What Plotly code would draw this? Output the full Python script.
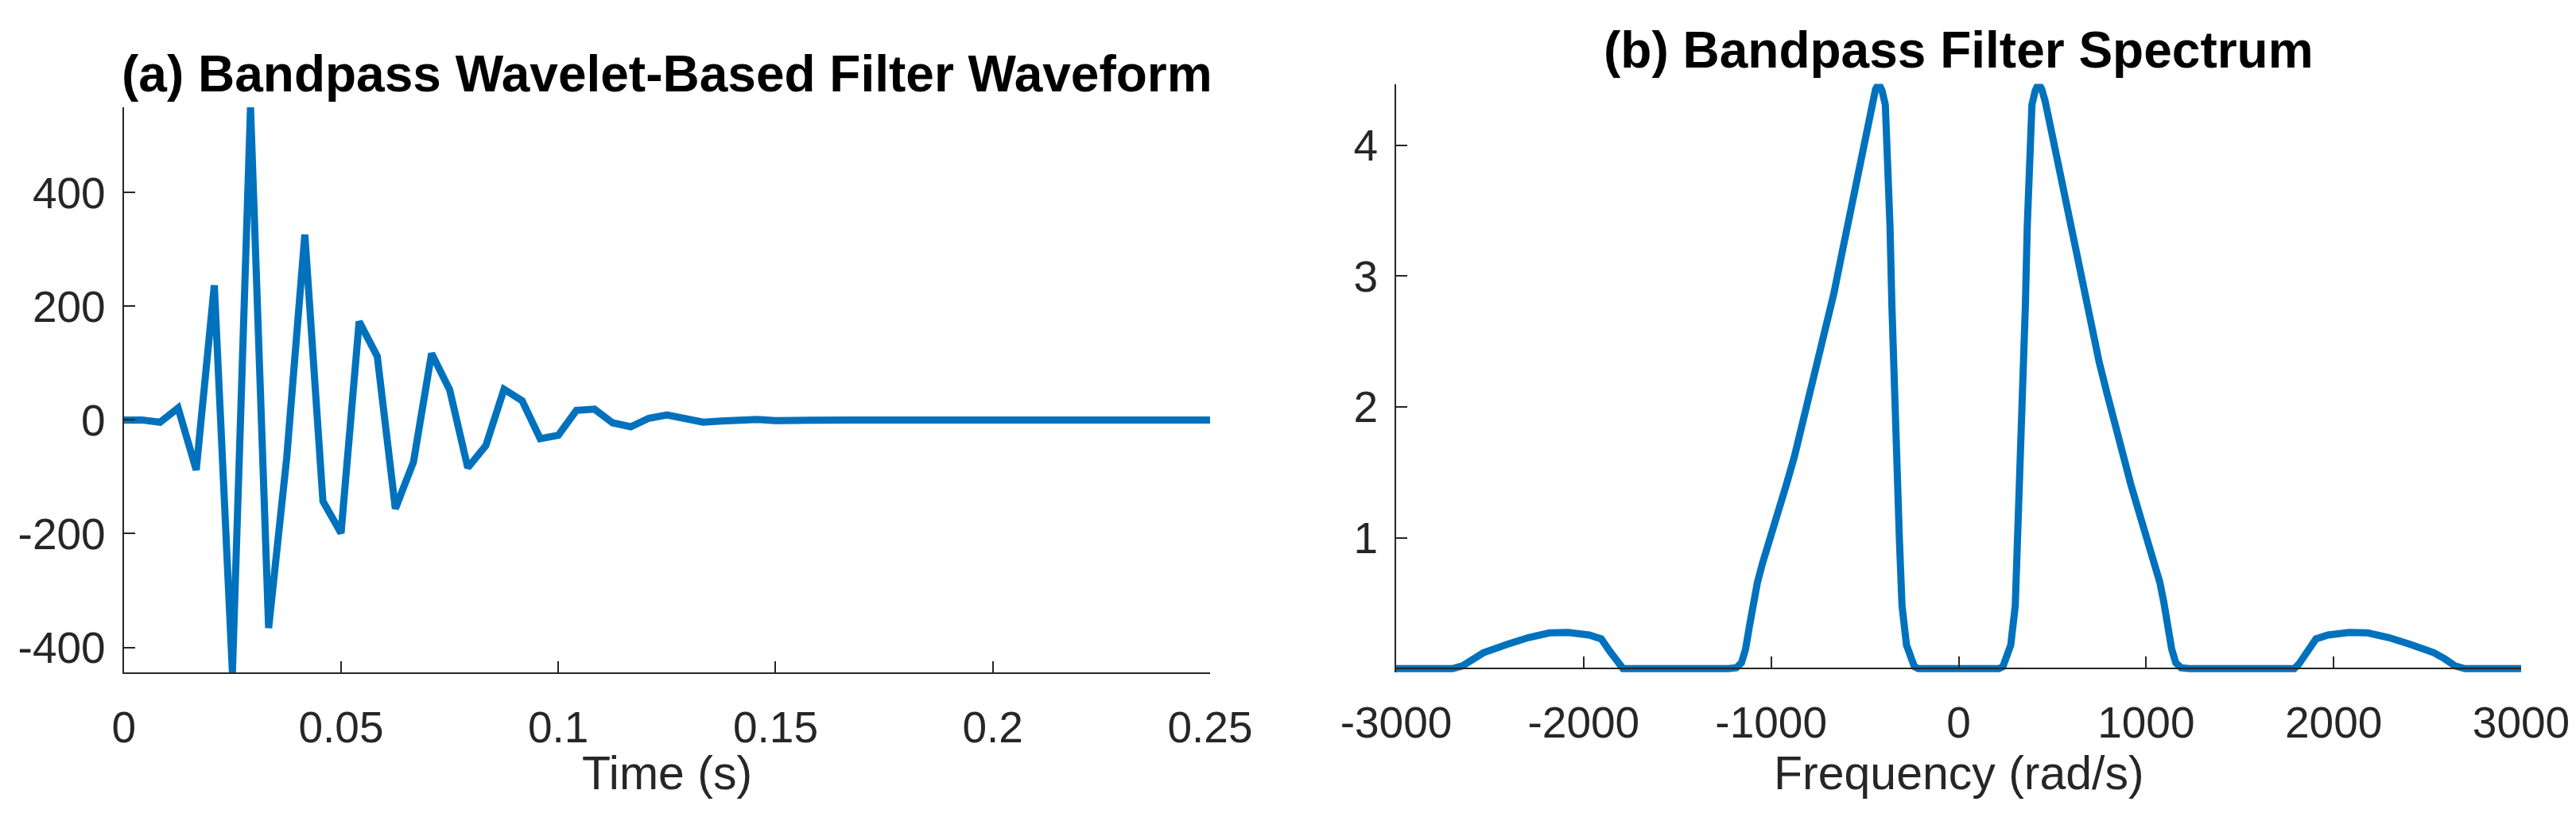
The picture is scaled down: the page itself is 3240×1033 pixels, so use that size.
import plotly.graph_objects as go

# ---------------- data ----------------
time_s = [0, 0.004167, 0.008333, 0.0125, 0.016667, 0.020833, 0.025, 0.029167, 0.033333, 0.0375,
          0.041667, 0.045833, 0.05, 0.054167, 0.058333, 0.0625, 0.066667, 0.070833, 0.075, 0.079167,
          0.083333, 0.0875, 0.091667, 0.095833, 0.1, 0.104167, 0.108333, 0.1125, 0.116667, 0.120833,
          0.125, 0.129167, 0.133333, 0.1375, 0.141667, 0.145833, 0.15, 0.154167, 0.158333, 0.1625,
          0.166667, 0.170833, 0.175, 0.179167, 0.183333, 0.1875, 0.191667, 0.195833, 0.2, 0.204167,
          0.208333, 0.2125, 0.216667, 0.220833, 0.225, 0.229167, 0.233333, 0.2375, 0.241667, 0.245833,
          0.25]
waveform = [0, 0, -4, 21, -88, 237, -444, 550, -366, -66,
            326, -143, -199, 173, 112, -156, -74, 117, 53, -84,
            -45, 54, 34, -33, -27, 17, 19, -5, -12, 3,
            9, 2, -4, -2, 1, 1, -1, 0, 0, 0,
            0, 0, 0, 0, 0, 0, 0, 0, 0, 0,
            0, 0, 0, 0, 0, 0, 0, 0, 0, 0,
            0]

freq_rad = [-3000, -2700, -2648, -2592, -2535, -2408, -2295, -2182, -2083, -1970, -1906, -1857, -1814, -1790,
            -1230, -1186, -1158, -1136, -1115, -1094, -1073, -1045, -1003, -961, -918, -876, -834, -792,
            -750, -707, -665, -623, -581, -539, -496, -461, -443, -426, -409, -391, -377, -366, -356,
            -345, -332, -316, -302, -278, -236, -215,
            0,
            215, 236, 278, 302, 316, 332, 345, 356, 366, 377, 391, 409, 426, 443, 461, 496, 539, 581,
            623, 665, 707, 750, 792, 834, 876, 918, 961, 1003, 1045, 1073, 1094, 1115, 1136, 1158,
            1186, 1230,
            1790, 1814, 1857, 1906, 1970, 2083, 2182, 2295, 2408, 2535, 2592, 2648, 2700, 3000]
spectrum = [0, 0, 0.02, 0.075, 0.121, 0.186, 0.237, 0.273, 0.277, 0.257, 0.227, 0.126, 0.034, 0,
            0, 0.006, 0.045, 0.15, 0.33, 0.51, 0.66, 0.81, 1.0, 1.2, 1.41, 1.62, 1.86, 2.1,
            2.34, 2.6, 2.87, 3.17, 3.47, 3.8, 4.1, 4.34, 4.43, 4.47, 4.42, 4.31, 3.83, 3.38, 2.78,
            2.19, 1.59, 0.99, 0.48, 0.18, 0.015, 0,
            0,
            0, 0.015, 0.18, 0.48, 0.99, 1.59, 2.19, 2.78, 3.38, 3.83, 4.31, 4.42, 4.47, 4.43, 4.34, 4.1, 3.8, 3.47,
            3.17, 2.87, 2.6, 2.34, 2.1, 1.86, 1.62, 1.41, 1.2, 1.0, 0.81, 0.66, 0.51, 0.33, 0.15, 0.045,
            0.006, 0,
            0, 0.034, 0.126, 0.227, 0.257, 0.277, 0.273, 0.237, 0.186, 0.121, 0.075, 0.02, 0, 0]

wave_xticks = [0, 0.05, 0.1, 0.15, 0.2, 0.25]
wave_xlabels = ["0", "0.05", "0.1", "0.15", "0.2", "0.25"]
wave_yticks = [-400, -200, 0, 200, 400]
wave_ylabels = ["-400", "-200", "0", "200", "400"]
spec_xticks = [-3000, -2000, -1000, 0, 1000, 2000, 3000]
spec_xlabels = ["-3000", "-2000", "-1000", "0", "1000", "2000", "3000"]
spec_yticks = [1, 2, 3, 4]
spec_ylabels = ["1", "2", "3", "4"]

title_a = "(a) Bandpass Wavelet-Based Filter Waveform"
title_b = "(b) Bandpass Filter Spectrum"
xlabel_a = "Time (s)"
xlabel_b = "Frequency (rad/s)"

# ---------------- styling ----------------
W, H = 3240, 1033
LINE = "#0072BD"
AX = "#262626"
FONT = "Liberation Sans, Arial, sans-serif"


def px_x(p):
    return p / W


def px_y(p):
    return (H - p) / H


fig = go.Figure()
fig.add_trace(go.Scatter(x=time_s, y=waveform, mode="lines",
                         line=dict(color=LINE, width=9), xaxis="x", yaxis="y"))
fig.add_trace(go.Scatter(x=freq_rad, y=spectrum, mode="lines",
                         line=dict(color=LINE, width=9), xaxis="x2", yaxis="y2"))

common = dict(showgrid=False, zeroline=False, showline=True, linecolor=AX, linewidth=2,
              ticks="inside", ticklen=14, tickwidth=2, tickcolor=AX, automargin=False,
              tickfont=dict(family=FONT, size=55, color=AX))

fig.update_layout(
    width=W, height=H, margin=dict(l=0, r=0, t=0, b=0, autoexpand=False),
    paper_bgcolor="white", plot_bgcolor="white", showlegend=False,
    font=dict(family=FONT),
    xaxis=dict(domain=[px_x(147.7), px_x(1514)], range=[0, 0.25], anchor="y",
               tickvals=wave_xticks, ticktext=wave_xlabels, ticklabelstandoff=20, **common),
    yaxis=dict(domain=[px_y(838), px_y(127)], range=[-444, 550], anchor="x",
               tickvals=wave_yticks, ticktext=wave_ylabels, ticklabelstandoff=10, **common),
    xaxis2=dict(domain=[px_x(1748), px_x(3163)], range=[-3000, 3000], anchor="free",
                position=px_y(833.3),
                tickvals=spec_xticks, ticktext=spec_xlabels, ticklabelstandoff=20, **common),
    yaxis2=dict(domain=[px_y(838.2), px_y(97.5)], range=[-0.03, 4.47], anchor="x2",
                tickvals=spec_yticks, ticktext=spec_ylabels, ticklabelstandoff=10, **common),
    annotations=[
        dict(text=title_a, x=px_x(831), y=px_y(85), xref="paper", yref="paper",
             xanchor="center", yanchor="middle", showarrow=False,
             font=dict(family=FONT, size=64, color="black", weight="bold")),
        dict(text=title_b, x=px_x(2455.5), y=px_y(55), xref="paper", yref="paper",
             xanchor="center", yanchor="middle", showarrow=False,
             font=dict(family=FONT, size=64, color="black", weight="bold")),
        dict(text=xlabel_a, x=px_x(831), y=px_y(965), xref="paper", yref="paper",
             xanchor="center", yanchor="middle", showarrow=False,
             font=dict(family=FONT, size=59, color=AX)),
        dict(text=xlabel_b, x=px_x(2455.5), y=px_y(965), xref="paper", yref="paper",
             xanchor="center", yanchor="middle", showarrow=False,
             font=dict(family=FONT, size=59, color=AX)),
    ],
)

fig.write_html("out.html")
